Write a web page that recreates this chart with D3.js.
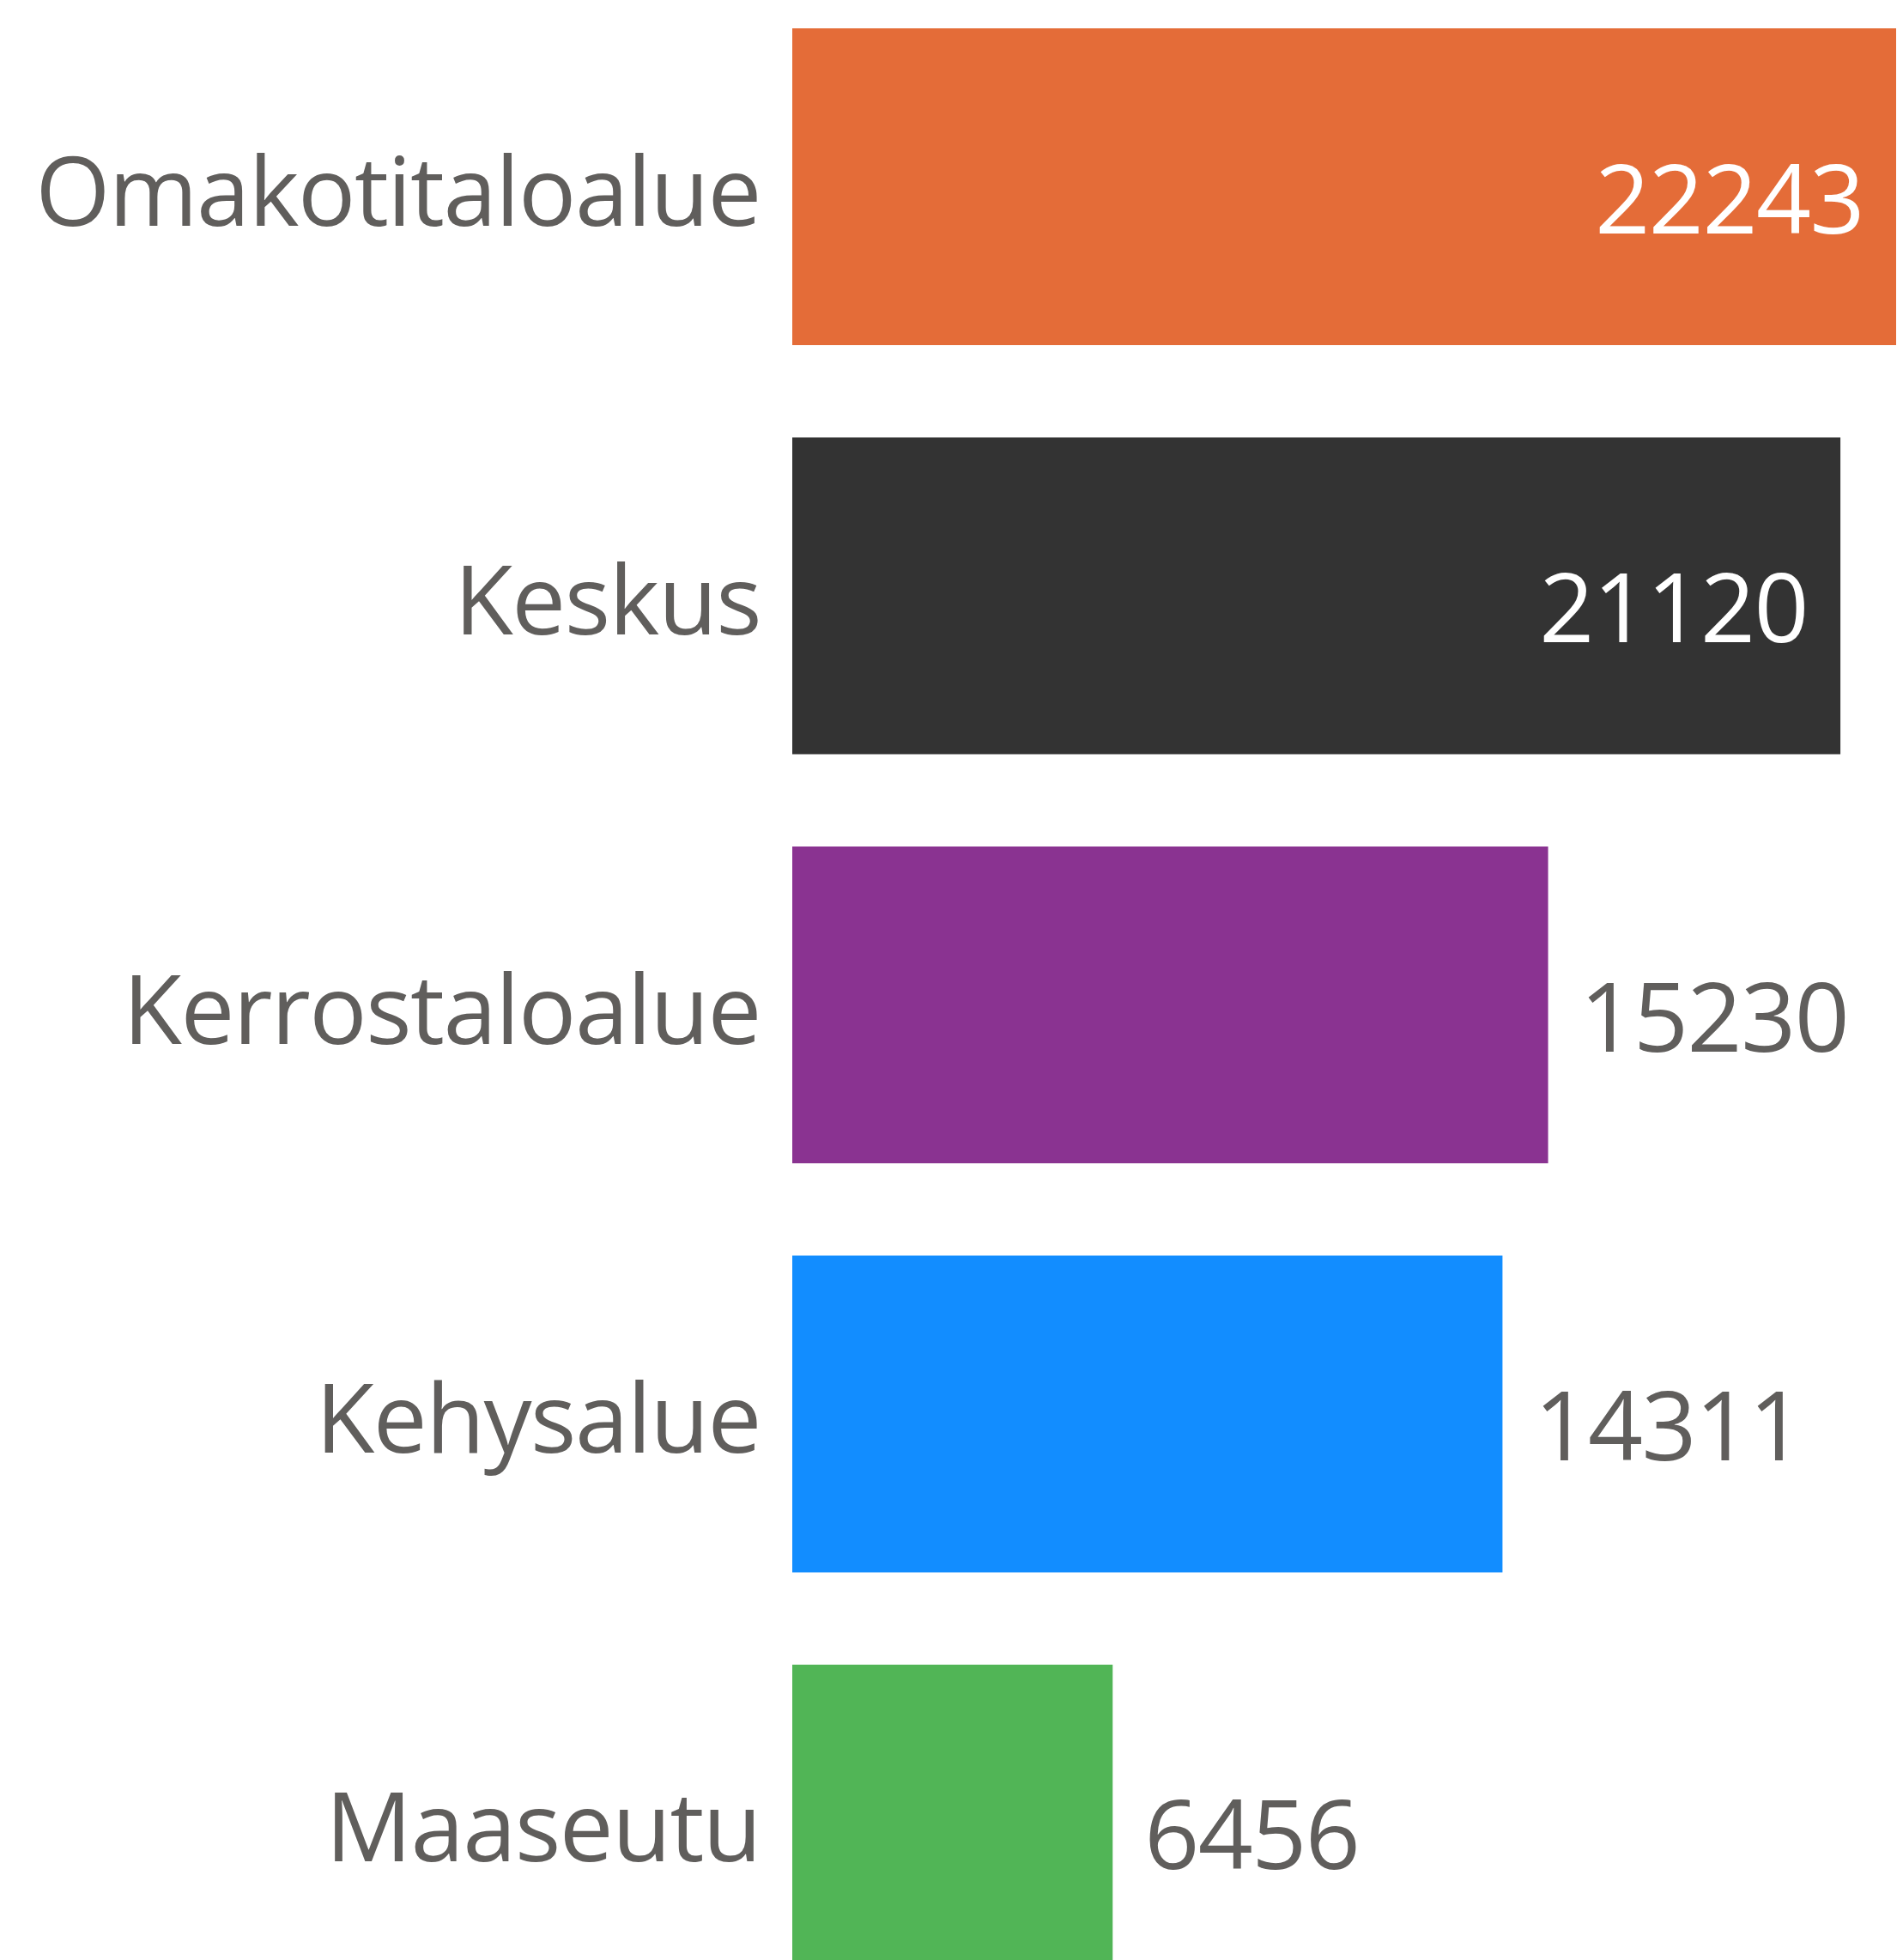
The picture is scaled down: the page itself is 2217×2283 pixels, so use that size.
<!DOCTYPE html>
<meta charset="utf-8">
<style>
body { margin: 0; background: #fff; }
text { font-family: "Open Sans", "Noto Sans", sans-serif; font-size: 112px; letter-spacing: -1.5px; }
</style>
<body>
<script src="https://d3js.org/d3.v7.min.js"></script>
<script>
var width = 2217,
    height = 2283;

var categories = ["Omakotitaloalue", "Keskus", "Kerrostaloalue", "Kehysalue", "Maaseutu"];
var values = [22243, 21120, 15230, 14311, 6456];
var colors = ["#e46c38", "#333333", "#8a3391", "#128dff", "#51b556"];
// first two bars carry their label inside
var insideLabel = [true, true, false, false, false];

var x = d3.scaleLinear()
    .domain([0, d3.max(values)])
    .range([923, 2209]);

var y = d3.scaleBand()
    .domain(categories)
    .range([33, 2308])
    .paddingInner(0.2256)
    .paddingOuter(0);

var svg = d3.select("body").append("svg")
    .attr("width", width)
    .attr("height", height);

var rows = svg.selectAll("g.row")
    .data(categories)
  .enter().append("g")
    .attr("class", "row");

rows.append("rect")
    .attr("x", x(0))
    .attr("y", function(d) { return y(d); })
    .attr("width", function(d, i) { return x(values[i]) - x(0); })
    .attr("height", y.bandwidth())
    .attr("fill", function(d, i) { return colors[i]; });

rows.append("text")
    .attr("x", 886)
    .attr("y", function(d) { return y(d) + y.bandwidth() / 2 + 45; })
    .attr("text-anchor", "end")
    .attr("fill", "#605e5c")
    .text(function(d) { return d; });

rows.append("text")
    .attr("x", function(d, i) { return insideLabel[i] ? x(values[i]) - 38 : x(values[i]) + 37; })
    .attr("y", function(d) { return y(d) + y.bandwidth() / 2 + 54; })
    .attr("text-anchor", function(d, i) { return insideLabel[i] ? "end" : "start"; })
    .attr("fill", function(d, i) { return insideLabel[i] ? "#ffffff" : "#605e5c"; })
    .text(function(d, i) { return values[i]; });
</script>
</body>
